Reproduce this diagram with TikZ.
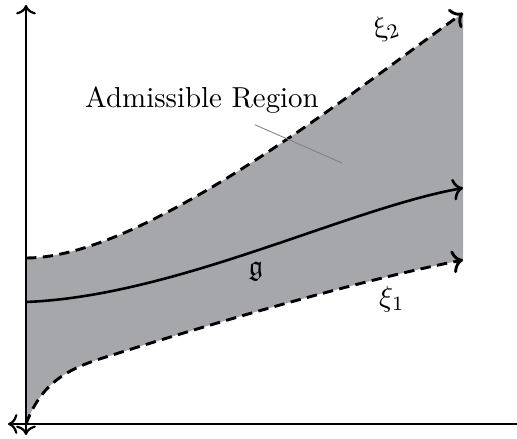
\documentclass[tikz,border=0pt]{standalone}
\usepackage{amsmath}
\usepackage{amssymb}
\usepackage{xcolor}
\usepackage{tikz}
\usetikzlibrary{arrows.meta, positioning, calc}

\definecolor{regiongray}{RGB}{166,167,171}

\begin{document}
\begin{tikzpicture}[
            x=0.346pt, y=0.346pt,
            axis/.style={line width=0.75pt},
            bound/.style={line width=1pt, dash pattern=on 3.6pt off 2.2pt, ->},
            nominal/.style={line width=0.9pt, ->},
            lbl/.style={font=\normalsize, inner sep=1pt},
        ]
        \useasboundingbox (-26,-14) rectangle (491,424);
        % bounds and g (pixel-like units)
        \coordinate (lowstart) at (0,0);
        \coordinate (lowend) at (437,164);
        \coordinate (upstart) at (0,166);
        \coordinate (upend) at (437,411);
        \coordinate (gstart) at (0,122);
        \coordinate (gend) at (437,236);
        \fill[regiongray] (lowstart) .. controls (15,40) and (40,55) .. (80,67)
            .. controls (200,105) and (340,145) .. (lowend)
            -- (upend) .. controls (330,335) and (120,166) .. (upstart) -- cycle;
        \draw[nominal] (gstart) .. controls (150,128) and (320,215) .. (gend);
        \draw[bound] (lowstart) .. controls (15,40) and (40,55) .. (80,67)
            .. controls (200,105) and (340,145) .. (lowend);
        \draw[bound] (upstart) .. controls (120,166) and (330,335) .. (upend);
        % axes
        \coordinate (ytop) at (0,419);
        \coordinate (ybot) at (0,-11);
        \coordinate (xleft) at (-18,0);
        \coordinate (xright) at (491,0);
        \draw[axis, <->] (ybot) -- (ytop);
        \draw[axis, <-] (xleft) -- (xright);
        % labels
        \node[lbl] (region) at (176,324) {Admissible Region};
        \coordinate (regfoot) at ($(region.south)+(53,-8)$);
        \coordinate (regpt) at (316,261);
        \draw[gray, line width=0.3pt] (regfoot) -- (regpt);
        \node[lbl] (gname) at (230,153) {$\mathfrak{g}$};
        \node[lbl] (xione) at (366,125) {$\xi_1$};
        \node[lbl, rotate=18] (xitwo) at (360,396) {$\xi_2$};
    \end{tikzpicture}
\end{document}
